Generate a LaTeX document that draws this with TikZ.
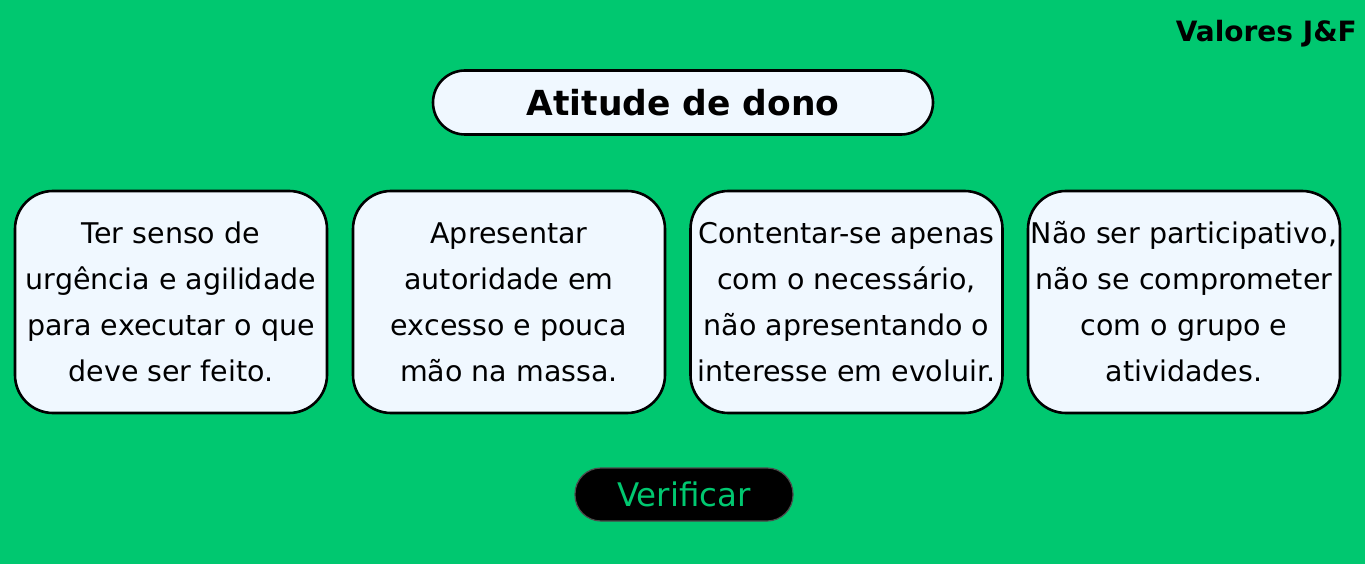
\documentclass[tikz,border=0pt]{standalone}
\usepackage{fontspec}
\setmainfont{DejaVu Sans}
\definecolor{bg}{RGB}{0,200,112}
\definecolor{boxfill}{RGB}{240,248,255}
\begin{document}
\begin{tikzpicture}[x=1pt,y=-1pt,
  card/.style={draw=black,line width=2.6pt,fill=boxfill,rounded corners=38pt,
    minimum width=312pt,minimum height=222pt,align=center,
    font=\fontsize{28.5}{46}\selectfont,inner sep=0pt},
  titlebox/.style={draw=black,line width=2.6pt,fill=boxfill,rounded corners=32pt,
    minimum width=500pt,minimum height=64pt,font=\fontsize{34.5}{40}\selectfont\bfseries,inner sep=0pt},
  btn/.style={draw=black!70,line width=1.2pt,fill=black,rounded corners=26pt,
    minimum width=218pt,minimum height=53pt,text=bg,font=\fontsize{32.5}{36}\selectfont,inner sep=0pt}]
\fill[bg] (0,0) rectangle (1365,564);
\useasboundingbox (0,0) rectangle (1365,564);
\node[anchor=north east,font=\fontsize{28}{34}\selectfont\bfseries,inner sep=0pt] (brand) at (1357,20) {Valores J\&F};
\node[titlebox] (title) at (683,102.5) {Atitude de dono};
\node[card] (c1) at (171,302) {Ter senso de\\urgência e agilidade\\para executar o que\\deve ser feito.};
\node[card] (c2) at (509,302) {Apresentar\\autoridade em\\excesso e pouca\\mão na massa.};
\node[card] (c3) at (846.5,302) {Contentar-se apenas\\com o necessário,\\não apresentando o\\interesse em evoluir.};
\node[card] (c4) at (1184,302) {Não ser participativo,\\não se comprometer\\com o grupo e\\atividades.};
\node[btn] (verify) at (684,494.5) {Verificar};
\end{tikzpicture}
\end{document}
